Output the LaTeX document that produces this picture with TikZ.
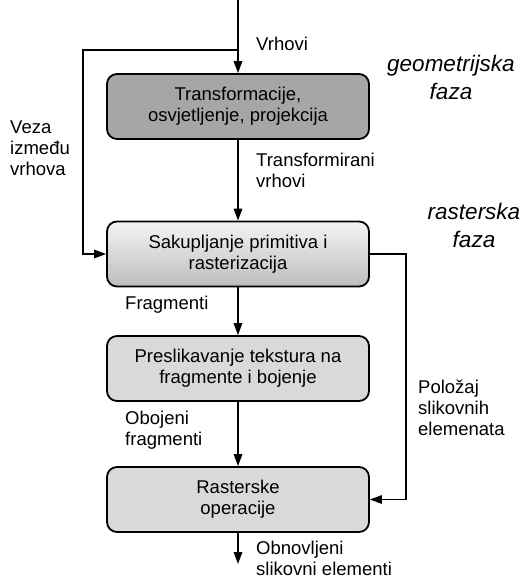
\documentclass[tikz,border=0pt]{standalone}
\usepackage{fontspec}
\setmainfont{Liberation Sans}
\usetikzlibrary{arrows.meta}
\definecolor{boxdark}{HTML}{A6A6A6}
\definecolor{boxlight}{HTML}{D9D9D9}
\definecolor{gradtop}{HTML}{F4F4F4}
\definecolor{gradbot}{HTML}{BDBDBD}
\begin{document}
\begin{tikzpicture}[x=1pt,y=-1pt,
  every node/.style={font=\fontsize{18.5}{21}\selectfont, inner sep=0pt},
  stagebox/.style={draw=black, line width=1.8pt, rounded corners=10pt,
     minimum width=262pt, minimum height=65pt, align=center},
  arr/.style={line width=1.5pt, -{Triangle[length=12pt,width=8.5pt]}},
  lbl/.style={anchor=west, align=left},
  phase/.style={align=center, font=\fontsize{22.5}{28}\selectfont\itshape}]
\useasboundingbox (0,0) rectangle (523,579);
% boxes
\node[stagebox, fill=boxdark] (b1) at (238,106.5) {Transformacije,\\osvjetljenje, projekcija};
\node[stagebox, top color=gradtop, bottom color=gradbot] (b2) at (238,254) {Sakupljanje primitiva i\\rasterizacija};
\node[stagebox, fill=boxlight] (b3) at (238,368.5) {Preslikavanje tekstura na\\fragmente i bojenje};
\node[stagebox, fill=boxlight] (b4) at (238,499.5) {Rasterske\\operacije};
% coordinates
\coordinate (top) at (238,0);
\coordinate (split) at (238,50);
\coordinate (fl) at (83,50);
\coordinate (fr) at (406,254);
\coordinate (bot) at (238,564);
% connectors
\draw[arr] (top) -- (b1.north);
\draw[arr] (split) -- (fl) |- (b2.west);
\draw[arr] (b1.south) -- (b2.north);
\draw[arr] (b2.south) -- (b3.north);
\draw[arr] (b3.south) -- (b4.north);
\draw[arr] (b2.east) -- (fr) |- (b4.east);
\draw[arr] (b4.south) -- (bot);
% labels
\node[lbl] (l1) at (256,44) {Vrhovi};
\node[lbl] (l2) at (10,148) {Veza\\između\\vrhova};
\node[lbl] (l3) at (256,170) {Transformirani\\vrhovi};
\node[lbl] (l4) at (125,305) {Fragmenti};
\node[lbl] (l5) at (125,430.5) {Obojeni\\fragmenti};
\node[lbl] (l6) at (418,408) {Položaj\\slikovnih\\elemenata};
\node[lbl] (l7) at (256,558.5) {Obnovljeni\\slikovni elementi};
\node[phase] (p1) at (451,77) {geometrijska\\faza};
\node[phase] (p2) at (474,225) {rasterska\\faza};
\end{tikzpicture}
\end{document}
